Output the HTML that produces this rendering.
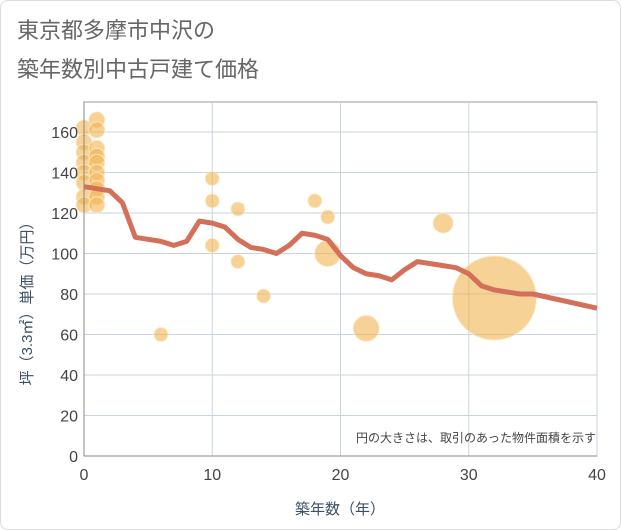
<!DOCTYPE html>
<html><head><meta charset="utf-8"><style>
body{margin:0;background:#fff;font-family:"Liberation Sans","Noto Sans CJK JP",sans-serif;}
#wrap{position:relative;width:619px;height:528px;border:1px solid #ddd;border-radius:8px;background:#fff;}
</style></head><body>
<div id="wrap">
<svg id="c" width="621" height="530" style="position:absolute;left:-1px;top:-1px">
<text x="17" y="38" font-size="22" fill="#666">東京都多摩市中沢の</text>
<text x="17" y="77" font-size="22" fill="#666">築年数別中古戸建て価格</text>
<g id="grid"></g><g id="bub"></g><g id="ln"></g><g id="ax"></g>
<text x="596" y="442" font-size="12" fill="#444" text-anchor="end">円の大きさは、取引のあった物件面積を示す</text>
<text x="340" y="514" font-size="15" fill="#3d4f66" text-anchor="middle">築年数（年）</text>
<text transform="translate(32,300) rotate(-90)" font-size="15" fill="#3d4f66" text-anchor="middle">坪（3.3㎡）単価（万円）</text>
</svg></div>
<script>
const xTicks=[0,10,20,30,40];
const yTicks=[0,20,40,60,80,100,120,140,160];
const bubX=[0,0,0,0,0,0,0,0,1,1,1,1,1,1,1,1,1,1,6,10,10,10,12,12,14,18,19,19,22,28,32];
const bubY=[162,155,150,145,140,135,128,124,166,161,152,148,145,140,136,132,128,124,60,137,126,104,122,96,79,126,118,100,63,115,78];
const bubR=[8,8,8,8,8,8,8,8,8,8,8,8,8,8,8,8,8,8,7,7,7,7,7,7,7,7,7,13,13,10,42];
const lineX=[0,1,2,3,4,5,6,7,8,9,10,11,12,13,14,15,16,17,18,19,20,21,22,23,24,25,26,27,28,29,30,31,32,33,34,35,40];
const lineY=[133,132,131,125,108,107,106,104,106,116,115,113,107,103,102,100,104,110,109,107,99,93,90,89,87,92,96,95,94,93,90,84,82,81,80,80,73];
const X0=84,X1=597,Y0=456,YT=102;
const sx=v=>X0+(X1-X0)*v/40, sy=v=>Y0-v*2.025;
const NS='http://www.w3.org/2000/svg';
function mk(p,t,a){const e=document.createElementNS(NS,t);for(const k in a)e.setAttribute(k,a[k]);document.getElementById(p).appendChild(e);return e;}
let r=mk('grid','rect',{x:X0,y:YT,width:X1-X0,height:Y0-YT,fill:'#fff',stroke:'#999'});


yTicks.forEach(v=>{
 const l=mk('grid','line',{x1:X0,x2:X1,y1:sy(v),y2:sy(v),stroke:'#c8d3e3'});
 
 
 const t=mk('ax','text',{x:X0-6,y:sy(v)+6,'text-anchor':'end','font-size':16,fill:'#444'});t.textContent=v;
 
 
});
xTicks.forEach(v=>{
 const l=mk('grid','line',{x1:sx(v),x2:sx(v),y1:YT,y2:Y0,stroke:'#c8d3e3'});
 
 
 const t=mk('ax','text',{x:sx(v),y:Y0+24,'text-anchor':'middle','font-size':16,fill:'#444'});t.textContent=v;
 
 
});
mk('ax','line',{x1:X0,x2:X1,y1:Y0,y2:Y0,stroke:'#888'});
mk('ax','line',{x1:X0,x2:X0,y1:YT,y2:Y0,stroke:'#888'});
bubX.forEach((v,i)=>{
 const c=mk('bub','circle',{cx:sx(v),cy:sy(bubY[i]),r:bubR[i],fill:'rgba(240,180,80,0.6)',stroke:'rgba(255,235,200,0.8)','stroke-width':1});
 
 
});
const p=mk('ln','polyline',{points:lineX.map((v,i)=>sx(v)+','+sy(lineY[i])).join(' '),fill:'none',stroke:'#d4705a','stroke-width':5,'stroke-linejoin':'round'});


</script></body></html>
